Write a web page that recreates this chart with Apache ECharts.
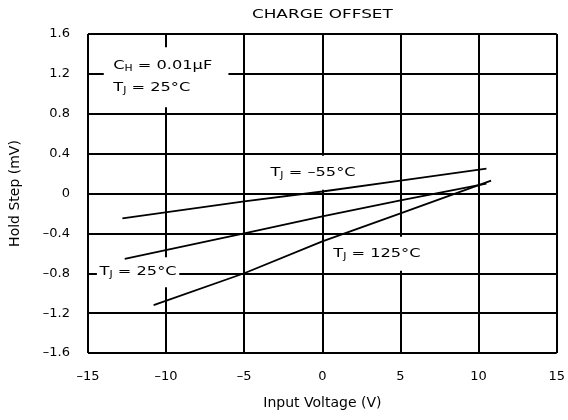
<!DOCTYPE html>
<html>
<head>
<meta charset="utf-8">
<script src="https://cdn.jsdelivr.net/npm/echarts@6/dist/echarts.min.js"></script>
<style>
  html, body { margin: 0; padding: 0; background: #fff; }
  #chart { width: 568px; height: 420px; }
</style>
</head>
<body>
<div id="chart"></div>
<script>
// Axis ticks and their printed labels
const xTicks = [-15, -10, -5, 0, 5, 10, 15];
const xTickLabels = ['–15', '–10', '–5', '0', '5', '10', '15'];
const yTicks = [-1.6, -1.2, -0.8, -0.4, 0, 0.4, 0.8, 1.2, 1.6];
const yTickLabels = ['–1.6', '–1.2', '–0.8', '–0.4', '0', '0.4', '0.8', '1.2', '1.6'];

// Hold step vs. input voltage at three junction temperatures
const seriesNames = ['TJ = –55°C', 'TJ = 25°C', 'TJ = 125°C'];
const inputVoltageM55 = [-12.8, -5, 0, 5, 10.5];
const holdStepM55 = [-0.25, -0.08, 0.02, 0.13, 0.25];
const inputVoltage25 = [-12.65, -5, 0, 5, 10.5];
const holdStep25 = [-0.655, -0.4, -0.23, -0.07, 0.1];
const inputVoltage125 = [-10.8, -5, 0, 5, 10.8];
const holdStep125 = [-1.12, -0.8, -0.48, -0.2, 0.13];

const FONT = 'DejaVu Sans';
const chart = echarts.init(document.getElementById('chart'), null, { renderer: 'canvas' });

function pairs(xs, ys) { return xs.map((x, i) => [x, ys[i]]); }
function tickText(ticks, labels, v) {
  const step = ticks[1] - ticks[0];
  const i = Math.round((v - ticks[0]) / step);
  return labels[i] !== undefined ? labels[i] : '';
}

const lineSeries = [
  pairs(inputVoltageM55, holdStepM55),
  pairs(inputVoltage25, holdStep25),
  pairs(inputVoltage125, holdStep125)
].map((data, i) => ({
  name: seriesNames[i],
  type: 'line',
  data: data,
  showSymbol: false,
  silent: true,
  z: 3,
  lineStyle: { color: '#000', width: 1.8 }
}));

chart.setOption({
  animation: false,
  backgroundColor: '#fff',
  grid: { left: 86, right: 9, top: 34, bottom: 67 },
  xAxis: {
    type: 'value', min: xTicks[0], max: xTicks[xTicks.length - 1], interval: 5,
    name: 'Input Voltage (V)', nameLocation: 'middle', nameGap: 43,
    nameTextStyle: { fontFamily: FONT, fontSize: 14, color: '#000' },
    axisLine: { show: false }, axisTick: { show: false },
    axisLabel: {
      margin: 17, color: '#000', fontFamily: FONT, fontSize: 13,
      formatter: v => tickText(xTicks, xTickLabels, v)
    },
    splitLine: { show: true, lineStyle: { color: '#000', width: 2 } }
  },
  yAxis: {
    type: 'value', min: yTicks[0], max: yTicks[yTicks.length - 1], interval: 0.4,
    name: 'Hold Step (mV)', nameLocation: 'middle', nameGap: 66,
    nameTextStyle: { fontFamily: FONT, fontSize: 14, color: '#000' },
    axisLine: { show: false }, axisTick: { show: false },
    axisLabel: {
      margin: 18, color: '#000', fontFamily: FONT, fontSize: 13,
      formatter: v => tickText(yTicks, yTickLabels, v)
    },
    splitLine: { show: true, lineStyle: { color: '#000', width: 2 } }
  },
  series: lineSeries
});

// Annotations, anchored in data space at the left/middle of their white boxes
const SX = 1.35;
const rich = {
  n: { fontFamily: FONT, fontSize: 12, color: '#000', lineHeight: 22 },
  s: { fontFamily: FONT, fontSize: 8, color: '#000', verticalAlign: 'middle', padding: [6, 0, 0, 0] }
};
const notes = [
  { at: [-13.99, 1.166], text: '{n|C}{s|H}{n| = 0.01µF}\n{n|T}{s|J}{n| = 25°C}', pad: [8, 12, 8, 7] },
  { at: [-3.84, 0.209], text: '{n|T}{s|J}{n| = –55°C}', pad: [6, 4, 6, 6] },
  { at: [-14.43, -0.79], text: '{n|T}{s|J}{n| = 25°C}', pad: [4, 2, 4, 2] },
  { at: [0.35, -0.604], text: '{n|T}{s|J}{n| = 125°C}', pad: [6, 4, 6, 4] }
];

const topMid = chart.convertToPixel({ gridIndex: 0 }, [0, yTicks[yTicks.length - 1]]);
const graphics = [{
  type: 'text', x: topMid[0], y: topMid[1] - 19, scaleX: SX, z: 5,
  style: { text: 'CHARGE OFFSET', fontFamily: FONT, fontSize: 12.5, fill: '#000', align: 'center', verticalAlign: 'middle' }
}];
notes.forEach(n => {
  const p = chart.convertToPixel({ gridIndex: 0 }, n.at);
  graphics.push({
    type: 'text', x: p[0], y: p[1], scaleX: SX, z: 1,
    style: {
      text: n.text, rich: rich, align: 'left', verticalAlign: 'middle',
      backgroundColor: '#fff', padding: n.pad
    }
  });
});
chart.setOption({ graphic: graphics });
</script>
</body>
</html>
